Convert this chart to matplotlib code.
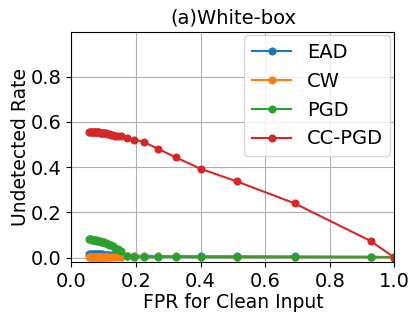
import matplotlib
matplotlib.use("Agg")
import matplotlib.pyplot as plt

fpr = [0.055, 0.058, 0.061, 0.064, 0.067, 0.070, 0.073, 0.076, 0.079, 0.082,
       0.085, 0.088, 0.091, 0.094, 0.097, 0.100, 0.104, 0.108, 0.112, 0.117,
       0.122, 0.128, 0.136, 0.145, 0.154, 0.171, 0.195, 0.226, 0.267, 0.324,
       0.400, 0.512, 0.691, 0.927, 1.000]

ead = [0.016, 0.016, 0.016, 0.016, 0.015, 0.015, 0.015, 0.015, 0.015, 0.014,
       0.014, 0.014, 0.014, 0.014, 0.013, 0.013, 0.013, 0.013, 0.012, 0.012,
       0.012, 0.011, 0.011, 0.010, 0.010, 0.009, 0.008, 0.008, 0.007, 0.007,
       0.006, 0.006, 0.005, 0.004, 0.002]

cw = [0.003, 0.003, 0.003, 0.003, 0.003, 0.003, 0.003, 0.003, 0.003, 0.003,
      0.003, 0.003, 0.003, 0.003, 0.003, 0.003, 0.003, 0.003, 0.003, 0.003,
      0.003, 0.003, 0.003, 0.003, 0.003, 0.005, 0.005, 0.005, 0.005, 0.005,
      0.004, 0.004, 0.003, 0.002, 0.001]

pgd = [0.083, 0.082, 0.081, 0.080, 0.079, 0.078, 0.077, 0.076, 0.075, 0.074,
       0.073, 0.072, 0.071, 0.070, 0.068, 0.067, 0.065, 0.063, 0.060, 0.057,
       0.054, 0.050, 0.044, 0.036, 0.027, 0.006, 0.003, 0.003, 0.003, 0.003,
       0.002, 0.002, 0.002, 0.002, 0.002]

ccpgd = [0.556, 0.556, 0.556, 0.556, 0.555, 0.555, 0.555, 0.555, 0.554, 0.554,
         0.554, 0.553, 0.553, 0.552, 0.552, 0.551, 0.550, 0.549, 0.548, 0.546,
         0.544, 0.543, 0.540, 0.539, 0.537, 0.529, 0.522, 0.510, 0.482, 0.443,
         0.393, 0.337, 0.240, 0.073, 0.000]

series = [("EAD", ead, "#1f77b4"), ("CW", cw, "#ff7f0e"),
          ("PGD", pgd, "#2ca02c"), ("CC-PGD", ccpgd, "#d62728")]

fig = plt.figure(figsize=(4.2, 3.22), dpi=100)
ax = fig.add_axes([0.170, 0.186, 0.769, 0.716])
for name, ys, c in series:
    ax.plot(fpr, ys, marker="o", markersize=4.8, linewidth=1.5, color=c, label=name)

ax.set_xlim(0, 1.0)
ax.set_ylim(-0.02, 1.0)
ax.set_xticks([0.0, 0.2, 0.4, 0.6, 0.8, 1.0])
ax.set_yticks([0.0, 0.2, 0.4, 0.6, 0.8])
ax.grid(True, color="#b0b0b0", linewidth=0.8)
ax.tick_params(labelsize=14)
ax.set_xlabel("FPR for Clean Input", fontsize=13.5, labelpad=1.5)
ax.set_ylabel("Undetected Rate", fontsize=13.5, labelpad=0.5)
ax.set_title("(a)White-box", fontsize=14)
ax.legend(loc="upper right", fontsize=14, borderaxespad=0.2)
fig.savefig("out.png", dpi=100)
